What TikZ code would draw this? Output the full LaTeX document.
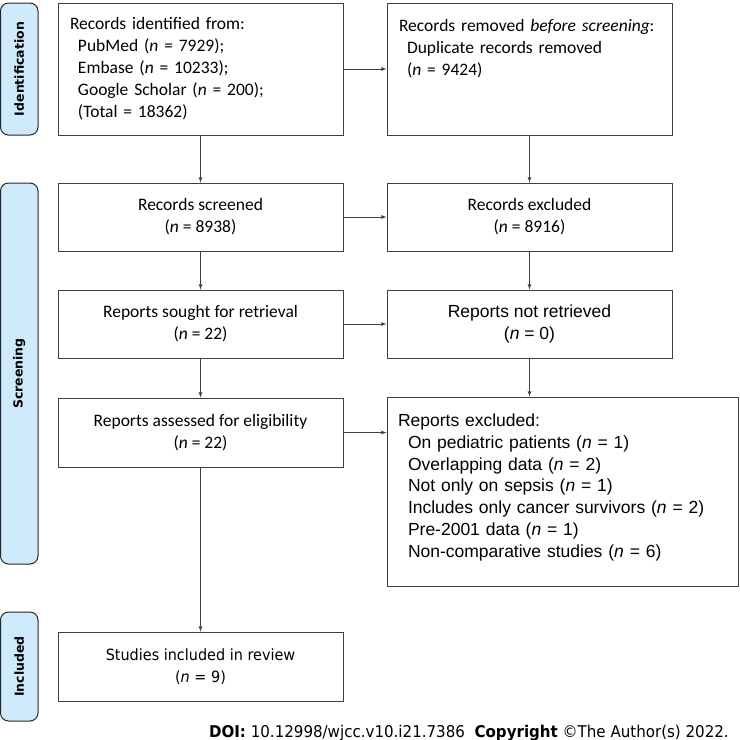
\documentclass[tikz,border=0pt]{standalone}
\usepackage{fontspec}
\setmainfont{Carlito}
\newfontfamily\arialfont{Liberation Sans}
\newfontfamily\tahomafont[FakeStretch=0.93]{DejaVu Sans}
\newfontfamily\tabfont{DejaVu Sans}
\definecolor{tabblue}{RGB}{206,234,251}
\definecolor{lineg}{RGB}{64,64,64}

\begin{document}
\begin{tikzpicture}[x=1pt, y=-1pt,
		box/.style={draw=lineg, line width=0.9pt, minimum width=285pt, minimum height=68pt, inner sep=0pt, align=center, font=\fontsize{17.5}{22}\selectfont},
		leftbox/.style={box, align=left, text width=261pt},
		tab/.style={draw=black!85, line width=1pt, fill=tabblue, rounded corners=8pt, minimum width=37.5pt, inner sep=0pt, font=\tabfont\bfseries\fontsize{12.5}{15}\selectfont},
		arr/.style={draw=lineg, line width=0.8pt, -latex}]
		\useasboundingbox(0, 0)rectangle(740, 740);
		% phase tabs
		\node[tab, minimum height=132pt](ident)at(19.25, 69){\rotatebox{90}{Identification}};
		\node[tab, minimum height=381pt](screen)at(19.25, 373.5){\rotatebox{90}{Screening}};
		\node[tab, minimum height=109pt](incl)at(19.25, 666.5){\rotatebox{90}{Included}};
		% left column
		\node[leftbox, minimum height=132pt](found)at(200.5, 69){Records identified from:\\
			\hspace*{8pt}PubMed (\textit{n} = 7929);\\
			\hspace*{8pt}Embase (\textit{n} = 10233);\\
			\hspace*{8pt}Google Scholar (\textit{n} = 200);\\
			\hspace*{8pt}(Total = 18362)};
		\node[box](screened)at(200.5, 217){Records screened\\(\textit{n} = 8938)};
		\node[box](sought)at(200.5, 324){Reports sought for retrieval\\(\textit{n} = 22)};
		\node[box, minimum height=69pt](assessed)at(200.5, 432.5){Reports assessed for eligibility\\(\textit{n} = 22)};
		\node[box, minimum height=69pt, font=\tahomafont\fontsize{15.5}{22}\selectfont](studies)at(200.5, 666.5){Studies included in review\\(\textit{n} = 9)};
		% right column
		\node[leftbox, minimum height=132pt](dupl)at(529.5, 69){Records removed \textit{before screening}:\\
			\hspace*{8pt}Duplicate records removed\\
			\hspace*{8pt}(\textit{n} = 9424)\\
			\mbox{}\\
			\mbox{}};
		\node[box](excl)at(529.5, 217){Records excluded\\(\textit{n} = 8916)};
		\node[box, font=\arialfont\fontsize{17.5}{22}\selectfont](notret)at(529.5, 324){Reports not retrieved\\(\textit{n} = 0)};
		\node[box, align=left, minimum width=351pt, minimum height=189pt, text width=329pt, font=\arialfont\fontsize{17.5}{21.8}\selectfont](rexcl)at(562.5, 491.5){Reports excluded:\\
			\hspace*{10pt}On pediatric patients (\textit{n} = 1)\\
			\hspace*{10pt}Overlapping data (\textit{n} = 2)\\
			\hspace*{10pt}Not only on sepsis (\textit{n} = 1)\\
			\hspace*{10pt}Includes only cancer survivors (\textit{n} = 2)\\
			\hspace*{10pt}Pre-2001 data (\textit{n} = 1)\\
			\hspace*{10pt}Non-comparative studies (\textit{n} = 6)\rule[-12pt]{0pt}{0pt}};
		% arrows
		\draw[arr](found)--(dupl);
		\draw[arr](found)--(screened);
		\draw[arr](dupl)--(excl);
		\draw[arr](screened)--(excl);
		\draw[arr](screened)--(sought);
		\draw[arr](excl)--(notret);
		\draw[arr](sought)--(notret);
		\draw[arr](notret.south)--(notret.south|-rexcl.north);
		\draw[arr](sought)--(assessed);
		\draw[arr](assessed.east)--(assessed.east-|rexcl.west);
		\draw[arr](assessed)--(studies);
		\node[anchor=base east, inner sep=0pt, font=\tahomafont\fontsize{16.2}{18}\selectfont](doi)at(729, 737){\textbf{DOI:} 10.12998/wjcc.v10.i21.7386\ \ \textbf{Copyright} ©The Author(s) 2022.};
	\end{tikzpicture}
\end{document}
